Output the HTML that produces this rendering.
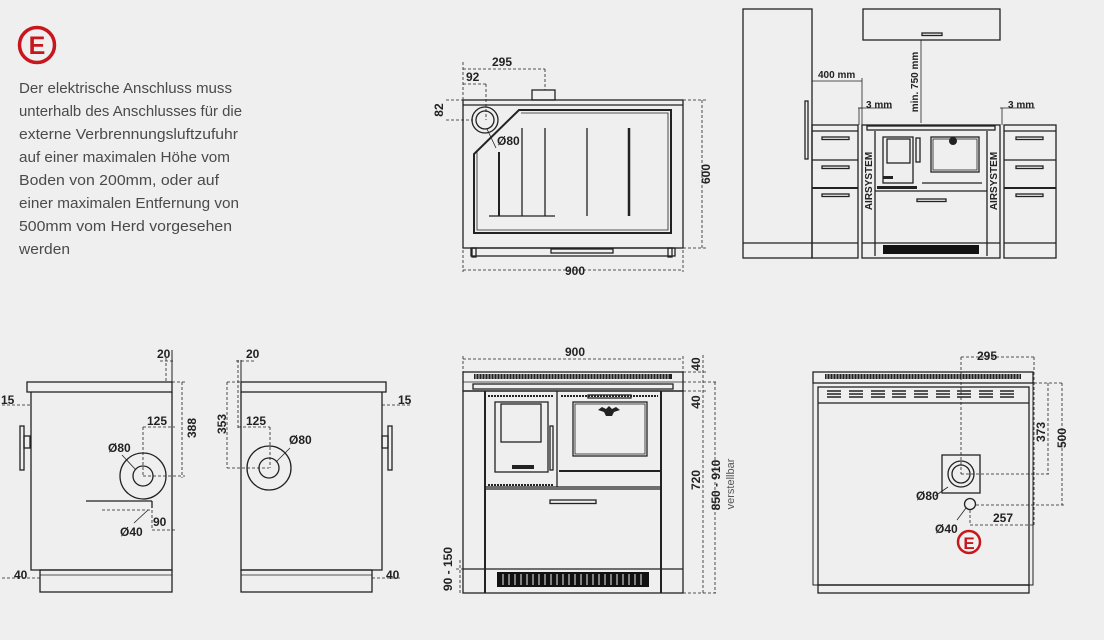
<!DOCTYPE html>
<html><head><meta charset="utf-8"><style>
html,body{margin:0;padding:0;background:#efefef;}
svg{display:block;}
text{font-family:"Liberation Sans",sans-serif;fill:#222;}
.t{font-size:15px;fill:#4a4a4a;}
.d{font-size:12px;font-weight:bold;}
.s{font-size:10px;font-weight:bold;}
</style></head><body>
<svg width="1104" height="640" viewBox="0 0 1104 640" xmlns="http://www.w3.org/2000/svg">
<rect width="1104" height="640" fill="#efefef"/>
<!-- text block -->
<circle cx="37" cy="45" r="17.5" fill="none" stroke="#c8161d" stroke-width="3.5"/>
<text x="37" y="54" text-anchor="middle" style="font-size:25px;font-weight:bold;fill:#c8161d">E</text>
<g>
<text class="t" x="19" y="93" textLength="213" lengthAdjust="spacingAndGlyphs">Der elektrische Anschluss muss</text>
<text class="t" x="19" y="116" textLength="223" lengthAdjust="spacingAndGlyphs">unterhalb des Anschlusses für die</text>
<text class="t" x="19" y="139" textLength="219" lengthAdjust="spacingAndGlyphs">externe Verbrennungsluftzufuhr</text>
<text class="t" x="19" y="162" textLength="211" lengthAdjust="spacingAndGlyphs">auf einer maximalen Höhe vom</text>
<text class="t" x="19" y="185" textLength="200" lengthAdjust="spacingAndGlyphs">Boden von 200mm, oder auf</text>
<text class="t" x="19" y="208" textLength="220" lengthAdjust="spacingAndGlyphs">einer maximalen Entfernung von</text>
<text class="t" x="19" y="231" textLength="213" lengthAdjust="spacingAndGlyphs">500mm vom Herd vorgesehen</text>
<text class="t" x="19" y="254" textLength="51" lengthAdjust="spacingAndGlyphs">werden</text>
</g>

<g fill="none" stroke="#222" stroke-width="1.3">
<!-- TOP VIEW -->
<rect x="463" y="100" width="220" height="148"/>
<line x1="463" y1="105" x2="683" y2="105"/>
<path d="M474 154 L474 233 L671 233 L671 110 L519 110 Z" stroke-width="2"/>
<path d="M477 151 L477 230 L668 230 L668 113 L521 113" stroke-width="0.8"/>
<circle cx="485" cy="120" r="13"/><circle cx="485" cy="120" r="9"/>
<rect x="532" y="90" width="23" height="10"/>
<line x1="499" y1="152" x2="499" y2="216" stroke-width="2"/>
<line x1="522" y1="128" x2="522" y2="216"/>
<line x1="545" y1="128" x2="545" y2="216"/>
<line x1="587" y1="128" x2="587" y2="216"/>
<line x1="629" y1="128" x2="629" y2="216" stroke-width="2.5"/>
<line x1="489" y1="216" x2="555" y2="216"/>
<rect x="471" y="248" width="204" height="8"/>
<rect x="551" y="249" width="62" height="4"/>
<rect x="472" y="248" width="4" height="9"/><rect x="668" y="248" width="4" height="9"/>
<g stroke-dasharray="3,2" stroke-width="0.8">
<line x1="463" y1="69" x2="545" y2="69"/><line x1="545" y1="69" x2="545" y2="90"/>
<line x1="463" y1="84" x2="486" y2="84"/><line x1="486" y1="84" x2="486" y2="120"/>
<line x1="463" y1="62" x2="463" y2="100"/>
<line x1="446" y1="100" x2="463" y2="100"/><line x1="446" y1="120" x2="473" y2="120"/>
<line x1="702" y1="100" x2="702" y2="248"/><line x1="683" y1="100" x2="706" y2="100"/><line x1="683" y1="248" x2="706" y2="248"/>
<line x1="463" y1="270" x2="683" y2="270"/><line x1="463" y1="250" x2="463" y2="272"/><line x1="683" y1="250" x2="683" y2="272"/>
</g>
<line x1="496" y1="148" x2="487" y2="129" stroke-width="0.8"/>
</g>
<text class="d" x="492" y="66">295</text>
<text class="d" x="466" y="81">92</text>
<text class="d" x="443" y="110" transform="rotate(-90 443 110)" text-anchor="middle">82</text>
<text class="d" x="497" y="145">Ø80</text>
<text class="d" x="710" y="174" transform="rotate(-90 710 174)" text-anchor="middle">600</text>
<text class="d" x="575" y="275" text-anchor="middle">900</text>

<!-- KITCHEN -->
<g fill="none" stroke="#222" stroke-width="1.3">
<rect x="743" y="9" width="69" height="249"/>
<line x1="743" y1="243" x2="858" y2="243"/>
<rect x="805" y="101" width="3" height="58"/>
<rect x="863" y="9" width="137" height="31"/>
<rect x="922" y="33" width="20" height="2.5"/>
<rect x="812" y="125" width="46" height="133"/>
<line x1="812" y1="131" x2="858" y2="131"/><line x1="812" y1="160" x2="858" y2="160"/><line x1="812" y1="188" x2="858" y2="188" stroke-width="2"/>
<rect x="822" y="137" width="27" height="2.5"/><rect x="822" y="166" width="27" height="2.5"/><rect x="822" y="194" width="27" height="2.5"/>
<rect x="1004" y="125" width="52" height="133"/>
<line x1="1004" y1="131" x2="1056" y2="131"/><line x1="1004" y1="160" x2="1056" y2="160"/><line x1="1004" y1="188" x2="1056" y2="188" stroke-width="2"/>
<rect x="1016" y="137" width="27" height="2.5"/><rect x="1016" y="166" width="27" height="2.5"/><rect x="1016" y="194" width="27" height="2.5"/>
<line x1="1004" y1="243" x2="1056" y2="243"/>
<rect x="862" y="125" width="138" height="133"/>
<rect x="867" y="126" width="128" height="4"/>
<line x1="875" y1="131" x2="875" y2="256"/><line x1="987" y1="131" x2="987" y2="256"/>
<rect x="883" y="137" width="30" height="46"/><rect x="887" y="139" width="23" height="24"/>
<rect x="916" y="138" width="4" height="24"/>
<rect x="931" y="137" width="48" height="35"/><rect x="933" y="139" width="44" height="31" stroke-width="0.8"/>
<line x1="922" y1="183" x2="982" y2="183"/>
<line x1="875" y1="191" x2="987" y2="191"/>
<rect x="917" y="199" width="29" height="2.5"/>
<line x1="862" y1="243" x2="1000" y2="243"/>
<g stroke-width="0.8">
<line x1="812" y1="81" x2="862" y2="81"/><line x1="862" y1="78" x2="862" y2="125"/>
<line x1="858" y1="108" x2="862" y2="108"/><line x1="860" y1="108" x2="892" y2="108"/>
<line x1="1000" y1="108" x2="1004" y2="108"/><line x1="1004" y1="108" x2="1035" y2="108"/>
<line x1="1002" y1="108" x2="1002" y2="125"/><line x1="859" y1="108" x2="859" y2="125"/>
<line x1="921" y1="40" x2="921" y2="123"/>
</g>
</g>
<rect x="883" y="176" width="10" height="3" fill="#222"/>
<rect x="877" y="186" width="40" height="3" fill="#222"/>
<rect x="883" y="245" width="96" height="9" fill="#111"/>
<circle cx="953" cy="141" r="4" fill="#222"/>
<text class="s" x="818" y="78">400 mm</text>
<text class="s" x="866" y="108">3 mm</text>
<text class="s" x="1008" y="108">3 mm</text>
<text class="s" x="918" y="82" transform="rotate(-90 918 82)" text-anchor="middle">min. 750 mm</text>
<text class="s" x="872" y="181" transform="rotate(-90 872 181)" text-anchor="middle">AIRSYSTEM</text>
<text class="s" x="997" y="181" transform="rotate(-90 997 181)" text-anchor="middle">AIRSYSTEM</text>

<!-- LEFT SIDE VIEW -->
<g fill="none" stroke="#222" stroke-width="1.3">
<rect x="27" y="382" width="145" height="10"/>
<path d="M31 392 L31 570 L172 570 L172 392"/>
<rect x="40" y="570" width="132" height="22"/>
<line x1="40" y1="575" x2="172" y2="575" stroke-width="0.8"/>
<rect x="20" y="426" width="4" height="44"/><rect x="24" y="436" width="6" height="12"/>
<circle cx="143" cy="476" r="23"/><circle cx="143" cy="476" r="10"/>
<line x1="172" y1="350" x2="172" y2="592" stroke-width="1"/>
<line x1="86" y1="501" x2="152" y2="501"/><line x1="152" y1="501" x2="152" y2="508"/>
<g stroke-dasharray="3,2" stroke-width="0.8">
<line x1="102" y1="510" x2="150" y2="510"/>
<line x1="143" y1="427" x2="143" y2="476"/><line x1="143" y1="427" x2="175" y2="427"/>
<line x1="143" y1="476" x2="185" y2="476"/><line x1="182" y1="382" x2="182" y2="478"/><line x1="172" y1="382" x2="185" y2="382"/>
<line x1="152" y1="510" x2="152" y2="530"/><line x1="152" y1="530" x2="175" y2="530"/>
<line x1="2" y1="405" x2="30" y2="405"/>
<line x1="2" y1="578" x2="40" y2="578"/><line x1="40" y1="570" x2="40" y2="580"/>
<line x1="160" y1="361" x2="174" y2="361"/>
<line x1="166" y1="358" x2="166" y2="382"/>
</g>
<line x1="136" y1="470" x2="122" y2="455" stroke-width="0.8"/>
<line x1="148" y1="510" x2="134" y2="523" stroke-width="0.8"/>
</g>
<text class="d" x="157" y="358">20</text>
<text class="d" x="1" y="404">15</text>
<text class="d" x="147" y="425">125</text>
<text class="d" x="196" y="428" transform="rotate(-90 196 428)" text-anchor="middle">388</text>
<text class="d" x="108" y="452">Ø80</text>
<text class="d" x="153" y="526">90</text>
<text class="d" x="120" y="536">Ø40</text>
<text class="d" x="14" y="579">40</text>

<!-- RIGHT SIDE VIEW -->
<g fill="none" stroke="#222" stroke-width="1.3">
<rect x="241" y="382" width="145" height="10"/>
<path d="M241 392 L241 570 L382 570 L382 392"/>
<rect x="241" y="570" width="131" height="22"/>
<line x1="241" y1="575" x2="372" y2="575" stroke-width="0.8"/>
<rect x="388" y="426" width="4" height="44"/><rect x="382" y="436" width="6" height="12"/>
<circle cx="269" cy="468" r="22"/><circle cx="269" cy="468" r="10"/>
<line x1="241" y1="360" x2="241" y2="382" stroke-width="1"/>
<g stroke-dasharray="3,2" stroke-width="0.8">
<line x1="227" y1="468" x2="269" y2="468"/><line x1="227" y1="382" x2="227" y2="468"/><line x1="227" y1="382" x2="241" y2="382"/>
<line x1="238" y1="427" x2="270" y2="427"/><line x1="270" y1="427" x2="270" y2="468"/>
<line x1="238" y1="360" x2="238" y2="430"/>
<line x1="236" y1="361" x2="256" y2="361"/>
<line x1="382" y1="405" x2="412" y2="405"/>
<line x1="372" y1="578" x2="400" y2="578"/>
</g>
<line x1="276" y1="462" x2="290" y2="448" stroke-width="0.8"/>
</g>
<text class="d" x="246" y="358">20</text>
<text class="d" x="398" y="404">15</text>
<text class="d" x="246" y="425">125</text>
<text class="d" x="226" y="424" transform="rotate(-90 226 424)" text-anchor="middle">353</text>
<text class="d" x="289" y="444">Ø80</text>
<text class="d" x="386" y="579">40</text>

<!-- FRONT VIEW -->
<g fill="none" stroke="#222" stroke-width="1.3">
<rect x="463" y="372" width="220" height="19"/>
<line x1="463" y1="382" x2="683" y2="382" stroke-width="0.8"/>
<rect x="473" y="384" width="200" height="5"/>
<rect x="463" y="391" width="220" height="202"/>
<line x1="485" y1="391" x2="485" y2="593" stroke-width="2"/>
<line x1="661" y1="391" x2="661" y2="593" stroke-width="2"/>
<line x1="463" y1="569" x2="683" y2="569"/>
<line x1="557" y1="391" x2="557" y2="487"/>
<line x1="485" y1="487" x2="661" y2="487"/>
<line x1="485" y1="489" x2="661" y2="489"/>
<rect x="495" y="402" width="53" height="70"/>
<rect x="501" y="404" width="40" height="38"/>
<rect x="550" y="426" width="3" height="44"/>
<rect x="573" y="402" width="74" height="54"/><rect x="575" y="404" width="70" height="50" stroke-width="0.8"/>
<line x1="559" y1="471" x2="661" y2="471" stroke-width="2"/>
<rect x="550" y="500" width="46" height="3.5"/>
<rect x="588" y="395" width="43" height="3"/>
</g>
<rect x="474" y="374" width="198" height="5" fill="#222"/>
<g stroke="#efefef" stroke-width="0.8">
<path d="M476 374v5M479 374v5M482 374v5M485 374v5M488 374v5M491 374v5M494 374v5M497 374v5M500 374v5M503 374v5M506 374v5M509 374v5M512 374v5M515 374v5M518 374v5M521 374v5M524 374v5M527 374v5M530 374v5M533 374v5M536 374v5M539 374v5M542 374v5M545 374v5M548 374v5M551 374v5M554 374v5M557 374v5M560 374v5M563 374v5M566 374v5M569 374v5M572 374v5M575 374v5M578 374v5M581 374v5M584 374v5M587 374v5M590 374v5M593 374v5M596 374v5M599 374v5M602 374v5M605 374v5M608 374v5M611 374v5M614 374v5M617 374v5M620 374v5M623 374v5M626 374v5M629 374v5M632 374v5M635 374v5M638 374v5M641 374v5M644 374v5M647 374v5M650 374v5M653 374v5M656 374v5M659 374v5M662 374v5M665 374v5M668 374v5"/>
</g>
<g stroke="#222" stroke-width="2" stroke-dasharray="2,1">
<line x1="488" y1="396" x2="553" y2="396"/><line x1="488" y1="485" x2="553" y2="485"/>
<line x1="561" y1="396" x2="658" y2="396"/>
</g>
<rect x="512" y="465" width="22" height="4" fill="#222"/>
<path d="M598 410 l4 -3 l4 2 l3 -3 l3 3 l4 -2 l4 3 l-6 2 l-2 4 h-6 l-2 -4z" fill="#222"/>
<rect x="497" y="572" width="152" height="15" fill="#111"/>
<g stroke="#efefef" stroke-width="1">
<path d="M503 574v11M509 574v11M515 574v11M521 574v11M527 574v11M533 574v11M539 574v11M545 574v11M551 574v11M557 574v11M563 574v11M569 574v11M575 574v11M581 574v11M587 574v11M593 574v11M599 574v11M605 574v11M611 574v11M617 574v11M623 574v11M629 574v11M635 574v11M641 574v11"/>
</g>
<g fill="none" stroke="#222" stroke-width="0.8" stroke-dasharray="3,2">
<line x1="463" y1="359" x2="683" y2="359"/><line x1="463" y1="356" x2="463" y2="372"/><line x1="683" y1="356" x2="683" y2="372"/>
<line x1="703" y1="355" x2="703" y2="593"/><line x1="683" y1="372" x2="706" y2="372"/><line x1="683" y1="391" x2="706" y2="391"/>
<line x1="715" y1="382" x2="715" y2="593"/><line x1="683" y1="382" x2="718" y2="382"/><line x1="683" y1="593" x2="718" y2="593"/>
<line x1="456" y1="569" x2="463" y2="569"/><line x1="460" y1="560" x2="460" y2="593"/>
</g>
<text class="d" x="575" y="356" text-anchor="middle">900</text>
<text class="d" x="700" y="364" transform="rotate(-90 700 364)" text-anchor="middle">40</text>
<text class="d" x="700" y="402" transform="rotate(-90 700 402)" text-anchor="middle">40</text>
<text class="d" x="700" y="480" transform="rotate(-90 700 480)" text-anchor="middle">720</text>
<text class="d" x="720" y="485" transform="rotate(-90 720 485)" text-anchor="middle">850 - 910</text>
<text x="734" y="484" transform="rotate(-90 734 484)" text-anchor="middle" style="font-size:11px;fill:#555">verstellbar</text>
<text class="d" x="452" y="569" transform="rotate(-90 452 569)" text-anchor="middle">90 - 150</text>

<!-- REAR VIEW -->
<g fill="none" stroke="#222" stroke-width="1.3">
<rect x="813" y="372" width="220" height="11"/>
<rect x="818" y="387" width="211" height="198"/>
<line x1="818" y1="403" x2="1029" y2="403"/>
<rect x="813" y="383" width="220" height="202" stroke-width="1"/>
<rect x="818" y="585" width="211" height="8"/>
<rect x="942" y="455" width="38" height="38"/>
<circle cx="961" cy="474" r="13"/><circle cx="961" cy="474" r="9"/>
<circle cx="970" cy="504" r="5.5"/>
<g stroke-width="0.8" stroke-dasharray="3,2">
<line x1="961" y1="357" x2="1034" y2="357"/><line x1="961" y1="357" x2="961" y2="474"/><line x1="1034" y1="357" x2="1034" y2="525"/>
<line x1="961" y1="474" x2="1049" y2="474"/><line x1="1048" y1="383" x2="1048" y2="474"/><line x1="1029" y1="383" x2="1064" y2="383"/>
<line x1="1062" y1="383" x2="1062" y2="505"/><line x1="976" y1="505" x2="1064" y2="505"/>
<line x1="970" y1="525" x2="1034" y2="525"/><line x1="970" y1="510" x2="970" y2="525"/>
</g>
<line x1="948" y1="487" x2="935" y2="496" stroke-width="0.8"/>
<line x1="966" y1="508" x2="957" y2="520" stroke-width="0.8"/>
</g>
<rect x="825" y="374" width="196" height="5" fill="#222"/>
<g stroke="#efefef" stroke-width="0.8">
<path d="M827 374v5M830 374v5M833 374v5M836 374v5M839 374v5M842 374v5M845 374v5M848 374v5M851 374v5M854 374v5M857 374v5M860 374v5M863 374v5M866 374v5M869 374v5M872 374v5M875 374v5M878 374v5M881 374v5M884 374v5M887 374v5M890 374v5M893 374v5M896 374v5M899 374v5M902 374v5M905 374v5M908 374v5M911 374v5M914 374v5M917 374v5M920 374v5M923 374v5M926 374v5M929 374v5M932 374v5M935 374v5M938 374v5M941 374v5M944 374v5M947 374v5M950 374v5M953 374v5M956 374v5M959 374v5M962 374v5M965 374v5M968 374v5M971 374v5M974 374v5M977 374v5M980 374v5M983 374v5M986 374v5M989 374v5M992 374v5M995 374v5M998 374v5M1001 374v5M1004 374v5M1007 374v5M1010 374v5M1013 374v5M1016 374v5M1019 374v5"/>
</g>
<g stroke="#222" stroke-width="1.4">
<path d="M827 391h14M827 394h14M827 397h14M849 391h14M849 394h14M849 397h14M871 391h14M871 394h14M871 397h14M892 391h14M892 394h14M892 397h14M914 391h14M914 394h14M914 397h14M936 391h14M936 394h14M936 397h14M957 391h14M957 394h14M957 397h14M979 391h14M979 394h14M979 397h14M1000 391h14M1000 394h14M1000 397h14"/>
</g>
<text class="d" x="987" y="360" text-anchor="middle">295</text>
<text class="d" x="1045" y="432" transform="rotate(-90 1045 432)" text-anchor="middle">373</text>
<text class="d" x="1066" y="438" transform="rotate(-90 1066 438)" text-anchor="middle">500</text>
<text class="d" x="916" y="500">Ø80</text>
<text class="d" x="935" y="533">Ø40</text>
<text class="d" x="993" y="522">257</text>
<circle cx="969" cy="542" r="11" fill="none" stroke="#c8161d" stroke-width="2.5"/>
<text x="969" y="549" text-anchor="middle" style="font-size:17px;font-weight:bold;fill:#c8161d">E</text>
</svg>
</body></html>
